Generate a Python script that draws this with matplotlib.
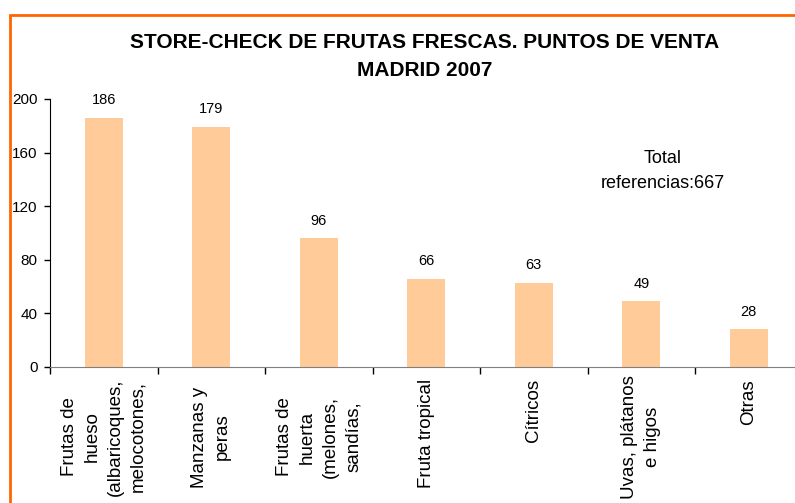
import matplotlib.pyplot as plt
from matplotlib.patches import Rectangle

plt.rcParams['font.family'] = ['Liberation Sans', 'DejaVu Sans']

categorias = [
    "Frutas de\nhueso\n(albaricoques,\nmelocotones,",
    "Manzanas y\nperas",
    "Frutas de\nhuerta\n(melones,\nsandías,",
    "Fruta tropical",
    "Cítricos",
    "Uvas, plátanos\ne higos",
    "Otras",
]
referencias = [186, 179, 96, 66, 63, 49, 28]
y_ticks = [0, 40, 80, 120, 160, 200]
total = 667

W, H = 795, 503
fig = plt.figure(figsize=(W / 100, H / 100), dpi=100)

# orange frame of the chart area (runs past the right/bottom edge)
fig.patches.append(Rectangle((10 / W, -0.2), 1.2, 1 - 15 / H + 0.2,
                             transform=fig.transFigure, fill=False,
                             edgecolor='#FF6600', linewidth=2))

ax = fig.add_axes([50 / W, (H - 367) / H, 752.5 / W, 268 / H])
x = list(range(len(categorias)))
ax.bar(x, referencias, width=0.355, color='#FFCC99', edgecolor='none', zorder=2)
ax.set_xlim(-0.5, len(categorias) - 0.5)
ax.set_ylim(0, 200)

for xi, v in zip(x, referencias):
    ax.text(xi, v + 8, str(v), ha='center', va='bottom', fontsize=10.5)

ax.set_yticks(y_ticks)
ax.set_yticklabels([str(t) for t in y_ticks], fontsize=11)
ax.tick_params(axis='y', length=4, width=1, color='black', pad=5)

# category boundary ticks below the axis
ax.set_xticks([i - 0.5 for i in range(len(categorias) + 1)])
ax.set_xticklabels([])
ax.tick_params(axis='x', length=5, width=1, color='black', direction='out')

# wrapped labels sit centred in the label box, single lines hang from the top
trans = ax.get_xaxis_transform()
for xi, c in zip(x, categorias):
    if '\n' in c:
        ax.text(xi, -70 / 268, c, rotation=90, ha='center', va='center',
                multialignment='center', fontsize=13.5, linespacing=1.45,
                transform=trans)
    else:
        ax.text(xi, -12 / 268, c, rotation=90, ha='center', va='top',
                fontsize=13.5, transform=trans)

ax.spines['top'].set_visible(False)
ax.spines['right'].set_visible(False)
ax.spines['bottom'].set_color('#808080')
ax.spines['left'].set_color('black')

fig.text(425 / W, 1 - 43 / H, "STORE-CHECK DE FRUTAS FRESCAS. PUNTOS DE VENTA",
         ha='center', va='center', fontsize=15, fontweight='bold')
fig.text(425 / W, 1 - 70 / H, "MADRID 2007",
         ha='center', va='center', fontsize=15, fontweight='bold')
fig.text(663 / W, 1 - 171 / H, f"Total\nreferencias:{total}",
         ha='center', va='center', fontsize=13, linespacing=1.6)

fig.savefig("out.png", dpi=100)
